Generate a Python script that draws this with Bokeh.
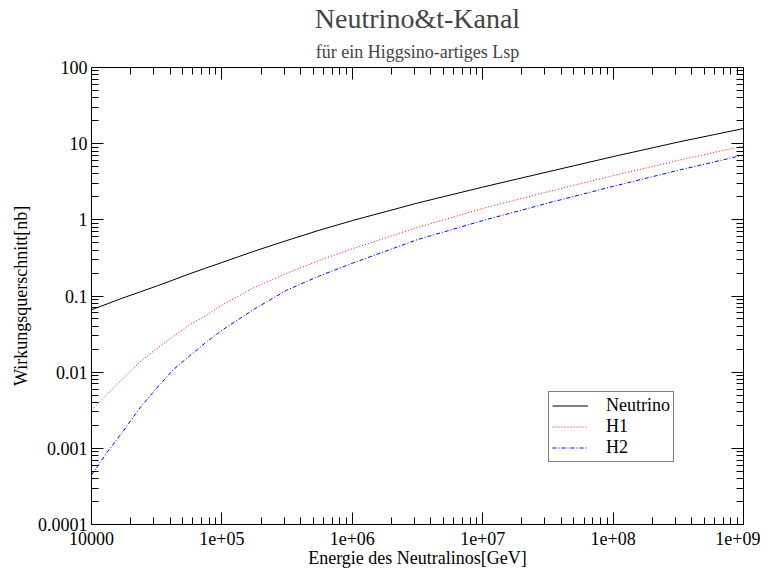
from bokeh.plotting import figure
from bokeh.models import (LogAxis, FixedTicker, Title, Legend, LegendItem, Range1d)
from bokeh.embed import file_html
from bokeh.resources import INLINE

# ---- data ----
energy = [1e4, 1.334e4, 1.778e4, 2.371e4, 3.162e4, 4.217e4, 5.623e4, 7.499e4,
          1e5, 1.778e5, 3.162e5, 5.623e5, 1e6, 3.162e6,
          1e7, 3.162e7, 1e8, 3.162e8, 1e9]
neutrino = [0.066, 0.0794, 0.0955, 0.1135, 0.135, 0.162, 0.195, 0.232,
            0.275, 0.389, 0.537, 0.733, 0.977, 1.66,
            2.69, 4.27, 6.76, 10.5, 15.8]
h1 = [0.00316, 0.00525, 0.0085, 0.0138, 0.0204, 0.0292, 0.0417, 0.055,
      0.0759, 0.130, 0.1995, 0.295, 0.417, 0.794,
      1.41, 2.34, 3.80, 6.03, 9.33]
h2 = [0.000447, 0.000912, 0.00174, 0.00347, 0.00617, 0.0107, 0.0162, 0.0244,
      0.0355, 0.0676, 0.120, 0.184, 0.269, 0.550,
      0.977, 1.66, 2.75, 4.47, 7.08]

x_ticks = [1e4, 1e5, 1e6, 1e7, 1e8, 1e9]
x_tick_labels = ["10000", "1e+05", "1e+06", "1e+07", "1e+08", "1e+09"]
y_ticks = [1e-4, 1e-3, 1e-2, 1e-1, 1, 10, 100]
y_tick_labels = ["0.0001", "0.001", "0.01", "0.1", "1", "10", "100"]

FONT = "Liberation Serif"

def minor(ticks):
    out = []
    for t in ticks[:-1]:
        out += [t * k for k in range(2, 10)]
    return out

p = figure(frame_width=652, frame_height=457, x_axis_type="log", y_axis_type="log",
           x_range=Range1d(1e4, 1e9), y_range=Range1d(1e-4, 100),
           output_backend="svg", toolbar_location=None,
           min_border_left=91, min_border_right=17,
           min_border_top=64, min_border_bottom=40)
p.grid.visible = False
p.outline_line_color = "black"
p.background_fill_color = "white"
p.border_fill_color = "white"

xt = FixedTicker(ticks=x_ticks, minor_ticks=minor(x_ticks))
yt = FixedTicker(ticks=y_ticks, minor_ticks=minor(y_ticks))
x_over = {t: l for t, l in zip(x_ticks, x_tick_labels)}
y_over = {t: l for t, l in zip(y_ticks, y_tick_labels)}

def style(ax):
    ax.axis_line_color = "black"
    ax.major_tick_line_color = "black"
    ax.minor_tick_line_color = "black"
    ax.major_tick_in = 12
    ax.major_tick_out = 0
    ax.minor_tick_in = 7
    ax.minor_tick_out = 0
    ax.major_label_text_font = FONT
    ax.major_label_text_font_size = "18px"
    ax.major_label_text_color = "black"
    ax.axis_label_text_font = FONT
    ax.axis_label_text_font_size = "18px"
    ax.axis_label_text_font_style = "normal"
    ax.axis_label_text_color = "black"

xa = p.xaxis[0]
xa.ticker = xt
style(xa)
xa.major_label_overrides = x_over
xa.major_label_standoff = 7
xa.axis_label = "Energie des Neutralinos[GeV]"
xa.axis_label_standoff = 0

ya = p.yaxis[0]
ya.ticker = yt
style(ya)
ya.major_label_overrides = y_over
ya.major_label_standoff = 4
ya.axis_label = "Wirkungsquerschnitt[nb]"
ya.axis_label_standoff = 4

top = LogAxis(ticker=xt)
style(top)
top.major_label_overrides = x_over
top.major_label_text_alpha = 0
top.major_label_text_font_size = "1px"
top.major_label_standoff = 0
p.add_layout(top, "above")
right = LogAxis(ticker=yt)
style(right)
right.major_label_overrides = y_over
right.major_label_text_alpha = 0
right.major_label_text_font_size = "1px"
right.major_label_standoff = 0
p.add_layout(right, "right")

p.title.text = "Neutrino&t-Kanal"
p.title.align = "center"
p.title.text_font = FONT
p.title.text_font_size = "28px"
p.title.text_font_style = "normal"
p.title.standoff = 0
p.add_layout(Title(text="für ein Higgsino-artiges Lsp", align="center",
                   text_font=FONT, text_font_size="18px",
                   text_font_style="normal", standoff=12), "above")

r0 = p.line(energy, neutrino, line_color="black", line_width=1)
r1 = p.line(energy, h1, line_color="#ff0000", line_width=1, line_dash="1 2")
r2 = p.line(energy, h2, line_color="#0000ff", line_width=1, line_dash="4 2 1 2")

legend = Legend(items=[LegendItem(label="Neutrino", renderers=[r0]),
                       LegendItem(label="H1", renderers=[r1]),
                       LegendItem(label="H2", renderers=[r2])],
                location=(457, 62), orientation="vertical")
legend.label_text_font = FONT
legend.label_text_font_size = "18px"
legend.label_text_color = "black"
legend.border_line_color = "black"
legend.border_line_width = 1
legend.background_fill_color = "white"
legend.background_fill_alpha = 1
legend.padding = 3
legend.margin = 0
legend.spacing = 0
legend.label_height = 19
legend.glyph_height = 19
legend.glyph_width = 36
legend.label_standoff = 18
p.add_layout(legend, "center")

open("out.html", "w").write(file_html(p, INLINE))
